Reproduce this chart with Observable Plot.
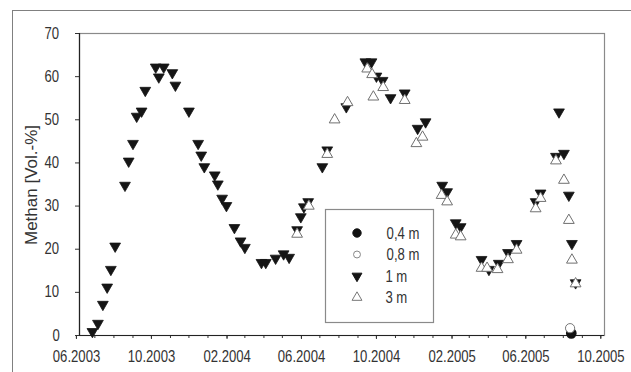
<!DOCTYPE html>
<html><head><meta charset="utf-8">
<script src="https://cdn.jsdelivr.net/npm/d3@7"></script>
<script src="https://cdn.jsdelivr.net/npm/@observablehq/plot@0.6"></script>
<style>
body{margin:0;background:#fff;}
#wrap{position:relative;width:631px;height:372px;overflow:hidden;background:#fff;}
#frame{position:absolute;left:12px;top:10px;width:700px;height:400px;border:1.5px solid #808080;box-sizing:border-box;}
#chart{position:absolute;left:0;top:0;}
</style></head><body>
<div id="wrap"><div id="frame"></div><div id="chart"></div></div>
<script>
// ---- data ----
const seriesNames = ["0,4 m", "0,8 m", "1 m", "3 m"];

const dates04 = ["2005-08-14"];
const vals04 = [0.5];

const dates08 = ["2005-08-12"];
const vals08 = [1.7];

const dates1m = [
  "2003-06-27","2003-07-06","2003-07-14","2003-07-21","2003-07-27","2003-08-03","2003-08-19","2003-08-25",
  "2003-09-01","2003-09-07","2003-09-15","2003-09-21","2003-10-08","2003-10-13","2003-10-21","2003-11-04",
  "2003-11-09","2003-12-01","2003-12-16","2003-12-21","2003-12-26","2004-01-12","2004-01-17","2004-01-24",
  "2004-01-31","2004-02-13","2004-02-23","2004-03-01","2004-03-28","2004-04-04","2004-04-20","2004-05-03",
  "2004-05-12","2004-05-25","2004-05-31","2004-06-05","2004-06-12","2004-07-05","2004-07-13","2004-08-13",
  "2004-09-13","2004-09-23","2004-10-01","2004-10-11","2004-10-24","2004-11-16","2004-12-07","2004-12-20",
  "2005-01-16","2005-01-24","2005-02-07","2005-02-15","2005-03-21","2005-04-02","2005-04-18","2005-05-03",
  "2005-05-17","2005-06-17","2005-06-25","2005-07-20","2005-07-25","2005-08-02","2005-08-10","2005-08-15",
  "2005-08-21"
];
const vals1m = [
  0.9, 2.8, 7.2, 11.2, 15.3, 20.7, 34.8, 40.4,
  44.5, 50.8, 52.0, 56.8, 62.2, 59.9, 62.2, 60.9,
  58.0, 52.0, 44.5, 41.8, 39.1, 37.2, 35.1, 31.8,
  30.1, 25.0, 21.9, 20.4, 16.9, 16.9, 17.9, 18.9,
  18.1, 24.5, 27.5, 29.8, 31.0, 39.1, 43.0, 53.0,
  63.4, 63.4, 60.1, 59.1, 55.1, 56.2, 48.0, 49.5,
  34.8, 33.3, 26.1, 25.2, 17.6, 15.3, 16.7, 19.2,
  21.3, 31.0, 33.0, 41.5, 51.8, 42.2, 32.5, 21.3,
  12.2
];

const dates3m = [
  "2004-05-25","2004-06-13","2004-07-13","2004-07-25","2004-08-15","2004-09-16","2004-09-24","2004-09-26",
  "2004-10-12","2004-11-16","2004-12-05","2004-12-15","2005-01-15","2005-01-24","2005-02-07","2005-02-15",
  "2005-03-21","2005-03-30","2005-04-16","2005-05-03","2005-05-17","2005-06-17","2005-06-25","2005-07-20",
  "2005-08-02","2005-08-10","2005-08-15","2005-08-21"
];
const vals3m = [
  23.5, 30.0, 42.0, 50.0, 54.0, 61.8, 60.5, 55.3,
  57.5, 54.5, 44.5, 46.0, 32.5, 31.0, 23.3, 22.9,
  15.6, 15.6, 15.3, 17.6, 19.8, 29.4, 31.8, 40.5,
  36.0, 26.7, 17.5, 12.0
];

const xTickLabels = ["06.2003","10.2003","02.2004","06.2004","10.2004","02.2005","06.2005","10.2005"];
const yTicks = [0, 10, 20, 30, 40, 50, 60, 70];
const yLabel = "Methan [Vol.-%]";

// ---- build ----
const parse = d3.utcParse("%Y-%m-%d");
const mk = (dates, vals) => dates.map((d, i) => ({date: parse(d), value: vals[i]}));
const d04 = mk(dates04, vals04), d08 = mk(dates08, vals08), d1 = mk(dates1m, vals1m), d3m = mk(dates3m, vals3m);
const xTicks = xTickLabels.map(s => d3.utcParse("%m.%Y")(s));
const xDomain = [new Date(Date.UTC(2003, 5, 6)), new Date(Date.UTC(2005, 9, 7))];
const minorTicks = d3.utcMonth.range(new Date(Date.UTC(2003, 5, 1)), new Date(Date.UTC(2005, 9, 2)));

const triDown = {draw(ctx, size) {
  const y = -Math.sqrt(size / (Math.sqrt(3) * 3));
  ctx.moveTo(0, -y * 2); ctx.lineTo(-Math.sqrt(3) * y, y); ctx.lineTo(Math.sqrt(3) * y, y); ctx.closePath();
}};

const font = "'Liberation Sans',Arial,sans-serif";

const chart = Plot.plot({
  width: 631, height: 372,
  marginLeft: 79, marginRight: 27, marginTop: 33, marginBottom: 37,
  style: {fontFamily: font, fontSize: "16px", color: "#333", background: "transparent"},
  x: {type: "utc", domain: xDomain},
  y: {domain: [0, 70]},
  marks: [
    Plot.frame({stroke: "#8a8a8a", strokeWidth: 1.2}),
    Plot.axisX({ticks: minorTicks, tickSize: 3, tickFormat: () => "", stroke: "#333"}),
    Plot.axisX({ticks: xTicks, tickSize: 4, tickPadding: 11, tickFormat: d3.utcFormat("%m.%Y"), label: null, fill: "#333", stroke: "#333"}),
    Plot.axisY({ticks: yTicks, tickSize: 4, tickPadding: 12, label: null, fill: "#333", stroke: "#333"}),
    Plot.ruleY([0], {stroke: "#222", strokeWidth: 1.2}),
    Plot.ruleX([xDomain[0]], {stroke: "#222", strokeWidth: 1.2}),
    Plot.dot(d04, {x: "date", y: "value", symbol: "circle", r: 4.6, fill: "#111", stroke: "#111"}),
    Plot.dot(d08, {x: "date", y: "value", symbol: "circle", r: 4.6, fill: "#fff", stroke: "#777", strokeWidth: 1}),
    Plot.dot(d1, {x: "date", y: "value", symbol: triDown, r: 4, fill: "#151515", stroke: "#151515", strokeWidth: 0.8}),
    Plot.dot(d3m, {x: "date", y: "value", symbol: "triangle", r: 4, fill: "#fff", stroke: "#707070", strokeWidth: 1})
  ]
});
document.getElementById("chart").appendChild(chart);

const svg = d3.select(chart);
// narrow the tick labels horizontally (reference uses a condensed face)
function squish(sel, k) {
  sel.each(function() {
    const r = this.getBoundingClientRect();
    const s = chart.getBoundingClientRect();
    const cx = r.x + r.width / 2 - s.x;
    const t = this.getAttribute("transform") || "";
    this.setAttribute("transform", `translate(${cx},0) scale(${k},1) translate(${-cx},0) ${t}`);
  });
}
squish(svg.selectAll("text"), 0.82);

// y-axis title
svg.append("text").attr("transform", "translate(31,185) rotate(-90)")
  .attr("text-anchor", "middle").attr("dy", "0.35em")
  .attr("font-family", font).attr("font-size", 17).attr("fill", "#333").text(yLabel);

// ---- legend ----
const lg = svg.append("g").attr("font-family", font).attr("font-size", 16).attr("fill", "#333");
lg.append("rect").attr("x", 325.5).attr("y", 209.5).attr("width", 108).attr("height", 113)
  .attr("fill", "#fff").attr("stroke", "#8a8a8a").attr("stroke-width", 1.2);
const legendStyles = [
  {sym: d3.symbolCircle, fill: "#111", stroke: "#111", size: 55},
  {sym: d3.symbolCircle, fill: "#fff", stroke: "#888", size: 38},
  {sym: triDown, fill: "#151515", stroke: "#151515", size: 42},
  {sym: d3.symbolTriangle, fill: "#fff", stroke: "#777", size: 42}
];
seriesNames.forEach((name, i) => {
  const cy = 233 + i * 21.5;
  const s = legendStyles[i];
  lg.append("path").attr("transform", `translate(357,${cy})`)
    .attr("d", d3.symbol(s.sym, s.size)()).attr("fill", s.fill).attr("stroke", s.stroke);
  lg.append("text").attr("x", 383).attr("y", cy).attr("dy", "0.35em")
    .attr("text-anchor", "start").text(name);
});
squish(lg.selectAll("text"), 0.82);
</script>
</body></html>
